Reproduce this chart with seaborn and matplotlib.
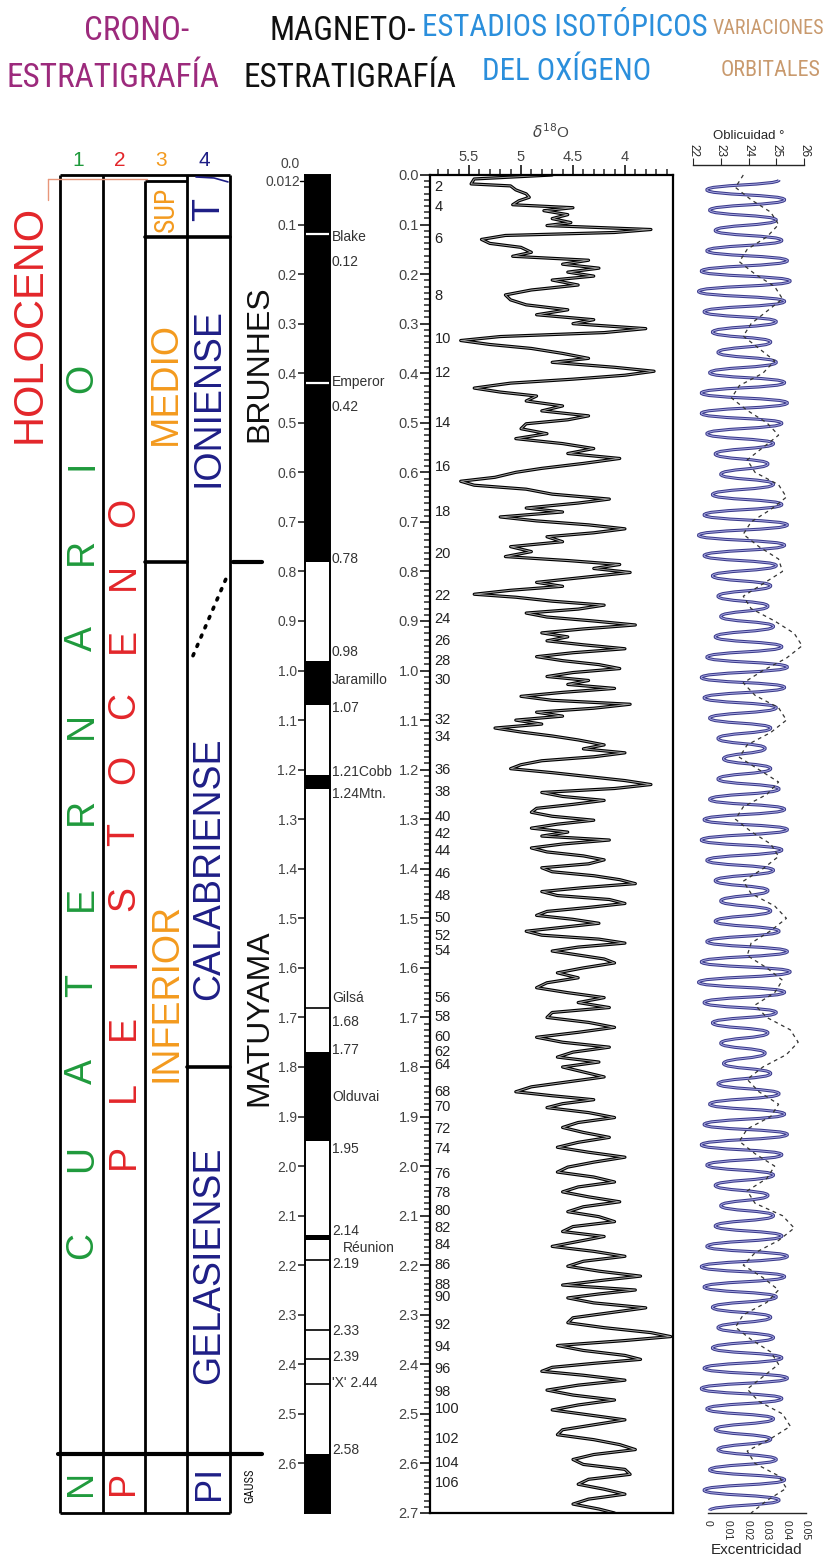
import matplotlib
matplotlib.use("Agg")
import numpy as np
import pandas as pd
import matplotlib.pyplot as plt
import seaborn as sns
from matplotlib import font_manager
from matplotlib.path import Path
from matplotlib.patches import PathPatch
from matplotlib.ticker import MultipleLocator, FixedLocator, FormatStrFormatter

# ---------------- data ----------------
# magnetostratigraphy: normal (black) intervals, Ma
mag_top = [0.0, 0.98, 1.21, 1.77, 2.14, 2.58]
mag_bot = [0.78, 1.07, 1.24, 1.95, 2.15, 2.70]
mag_white_lines = [0.12, 0.42]                 # Blake, Emperor
mag_thin_lines = [1.68, 2.19, 2.33, 2.39, 2.44]
mag_labels = ["Blake", "0.12", "Emperor", "0.42", "0.78", "0.98", "Jaramillo", "1.07",
              "1.21Cobb", "1.24Mtn.", "Gilsá", "1.68", "1.77", "Olduvai", "1.95",
              "2.14", "Réunion", "2.19", "2.33", "2.39", "'X' 2.44", "2.58"]
mag_label_age = [0.125, 0.175, 0.418, 0.468, 0.775, 0.962, 1.02, 1.075,
                 1.205, 1.25, 1.66, 1.71, 1.765, 1.86, 1.965,
                 2.13, 2.165, 2.198, 2.333, 2.385, 2.437, 2.572]

# oxygen isotope record (age Ma, d18O per mil)
d18_age = [0.000, 0.008, 0.018, 0.022, 0.030, 0.038, 0.045, 0.052, 0.060, 0.066,
           0.072, 0.080, 0.088, 0.096, 0.102, 0.110, 0.116, 0.122, 0.130, 0.138,
           0.146, 0.156, 0.164, 0.172, 0.180, 0.188, 0.196, 0.204, 0.212, 0.222,
           0.232, 0.242, 0.252, 0.262, 0.272, 0.282, 0.292, 0.300, 0.310, 0.318,
           0.326, 0.334, 0.342, 0.350, 0.360, 0.370, 0.378, 0.388, 0.396, 0.404,
           0.412, 0.420, 0.430, 0.438, 0.446, 0.456, 0.466, 0.476, 0.486, 0.494,
           0.502, 0.512, 0.522, 0.532, 0.542, 0.552, 0.562, 0.572, 0.582, 0.592,
           0.600, 0.610, 0.618, 0.626, 0.634, 0.644, 0.654, 0.662, 0.672, 0.680,
           0.690, 0.698, 0.706, 0.714, 0.722, 0.730, 0.740, 0.750, 0.760, 0.770,
           0.778, 0.786, 0.794, 0.802, 0.812, 0.822, 0.830, 0.838, 0.846, 0.852,
           0.860, 0.868, 0.876, 0.884, 0.892, 0.900, 0.908, 0.916, 0.924, 0.932,
           0.940, 0.948, 0.956, 0.964, 0.972, 0.980, 0.988, 0.996, 1.004, 1.012,
           1.020, 1.028, 1.036, 1.044, 1.052, 1.060, 1.068, 1.076, 1.084, 1.092,
           1.100, 1.108, 1.116, 1.124, 1.132, 1.140, 1.150, 1.158, 1.166, 1.174,
           1.182, 1.190, 1.198, 1.206, 1.214, 1.222, 1.230, 1.238, 1.246, 1.254,
           1.262, 1.270, 1.278, 1.286, 1.294, 1.302, 1.310, 1.318, 1.326, 1.334,
           1.342, 1.350, 1.358, 1.366, 1.374, 1.382, 1.390, 1.398, 1.406, 1.414,
           1.422, 1.430, 1.438, 1.446, 1.454, 1.462, 1.470, 1.478, 1.486, 1.494,
           1.502, 1.510, 1.518, 1.526, 1.534, 1.542, 1.550, 1.558, 1.566, 1.574,
           1.582, 1.590, 1.600, 1.610, 1.620, 1.630, 1.640, 1.650, 1.660, 1.670,
           1.680, 1.690, 1.700, 1.710, 1.720, 1.730, 1.740, 1.750, 1.760, 1.770,
           1.780, 1.790, 1.800, 1.810, 1.820, 1.830, 1.840, 1.850, 1.858, 1.866,
           1.874, 1.882, 1.892, 1.902, 1.912, 1.922, 1.932, 1.942, 1.952, 1.962,
           1.972, 1.982, 1.992, 2.002, 2.012, 2.022, 2.032, 2.042, 2.052, 2.062,
           2.072, 2.082, 2.092, 2.102, 2.112, 2.122, 2.132, 2.142, 2.152, 2.162,
           2.172, 2.182, 2.192, 2.202, 2.212, 2.222, 2.230, 2.240, 2.250, 2.258,
           2.266, 2.276, 2.286, 2.296, 2.306, 2.316, 2.326, 2.336, 2.344, 2.352,
           2.362, 2.372, 2.382, 2.390, 2.398, 2.406, 2.414, 2.422, 2.432, 2.442,
           2.452, 2.462, 2.472, 2.482, 2.492, 2.502, 2.512, 2.522, 2.532, 2.542,
           2.552, 2.562, 2.572, 2.582, 2.592, 2.602, 2.612, 2.622, 2.632, 2.642,
           2.652, 2.662, 2.672, 2.682, 2.692, 2.700]
d18_val = [4.70, 5.45, 5.48, 5.10, 5.05, 4.95, 4.92, 5.02, 5.08, 4.50,
           4.78, 4.55, 4.70, 4.52, 4.75, 3.75, 4.10, 5.15, 5.38, 5.30,
           5.00, 4.90, 5.08, 4.35, 4.60, 4.25, 4.55, 4.30, 4.70, 4.45,
           4.90, 5.15, 5.10, 4.95, 4.55, 4.85, 4.30, 4.50, 3.80, 4.20,
           5.20, 5.58, 5.30, 4.90, 4.60, 4.35, 4.70, 4.10, 3.72, 4.00,
           4.50, 5.10, 5.45, 5.20, 4.85, 4.95, 4.60, 4.80, 4.35, 4.55,
           4.95, 5.00, 4.75, 5.05, 4.60, 4.30, 4.55, 4.05, 4.40, 4.80,
           5.05, 5.25, 5.58, 5.45, 4.95, 4.70, 4.15, 4.45, 4.95, 4.60,
           5.20, 4.85, 4.35, 4.00, 4.30, 4.75, 4.60, 5.10, 4.90, 5.15,
           4.55, 4.05, 4.30, 3.95, 4.40, 4.85, 4.60, 5.10, 5.45, 5.05,
           4.70, 4.20, 4.45, 4.95, 4.75, 4.30, 3.90, 4.40, 4.80, 4.55,
           4.75, 4.40, 4.00, 4.50, 4.85, 4.60, 4.25, 4.05, 4.50, 4.75,
           4.35, 4.55, 4.10, 4.60, 5.00, 4.70, 3.95, 4.30, 4.85, 4.60,
           5.05, 4.80, 5.25, 5.00, 4.70, 4.45, 4.20, 4.40, 4.00, 4.30,
           4.80, 5.00, 5.10, 4.70, 4.35, 4.00, 3.75, 4.10, 4.80, 4.60,
           4.20, 4.50, 4.85, 4.90, 4.70, 4.30, 4.65, 4.90, 4.55, 4.80,
           4.15, 4.60, 4.90, 4.75, 4.40, 4.20, 4.35, 4.80, 4.70, 4.30,
           4.05, 3.90, 4.40, 4.80, 4.65, 4.15, 4.00, 4.35, 4.75, 4.85,
           4.50, 4.25, 4.60, 4.95, 4.80, 4.25, 4.00, 4.45, 4.70, 4.45,
           4.20, 4.10, 4.40, 4.65, 4.45, 4.75, 4.85, 4.55, 4.20, 4.45,
           4.15, 4.70, 4.75, 4.35, 4.10, 4.45, 4.85, 4.60, 4.15, 4.50,
           4.65, 4.25, 4.60, 4.40, 4.20, 4.55, 4.90, 5.05, 4.70, 4.30,
           4.60, 4.75, 4.35, 4.10, 4.45, 4.60, 4.40, 4.15, 4.45, 4.65,
           4.35, 4.00, 4.30, 4.55, 4.65, 4.30, 4.10, 4.45, 4.60, 4.35,
           4.05, 4.40, 4.55, 4.25, 4.10, 4.50, 4.60, 4.20, 4.45, 4.70,
           4.30, 4.00, 4.40, 4.55, 4.25, 3.85, 4.20, 4.60, 3.90, 4.25,
           4.55, 4.30, 3.80, 4.15, 4.50, 4.55, 4.20, 3.75, 3.56, 4.00,
           4.65, 4.40, 4.00, 3.85, 4.30, 4.70, 4.80, 4.40, 4.00, 4.45,
           4.75, 4.50, 4.10, 4.45, 4.70, 4.35, 4.00, 4.30, 4.60, 4.65,
           4.30, 4.05, 3.90, 4.30, 4.50, 4.40, 4.00, 3.95, 4.35, 4.45,
           4.20, 4.00, 4.35, 4.50, 4.25, 4.10]

# marine isotope stage labels
stage_num = [2, 4, 6, 8, 10, 12, 14, 16, 18, 20, 22, 24, 26, 28, 30, 32, 34, 36, 38, 40,
             42, 44, 46, 48, 50, 52, 54, 56, 58, 60, 62, 64, 68, 70, 72, 74, 76, 78, 80,
             82, 84, 86, 88, 90, 92, 94, 96, 98, 100, 102, 104, 106]
stage_age = [0.025, 0.065, 0.13, 0.245, 0.33, 0.40, 0.50, 0.59, 0.68, 0.765, 0.85, 0.895,
             0.94, 0.98, 1.02, 1.10, 1.135, 1.20, 1.245, 1.295, 1.33, 1.365, 1.41, 1.455,
             1.50, 1.535, 1.565, 1.66, 1.70, 1.74, 1.77, 1.795, 1.85, 1.88, 1.925, 1.965,
             2.015, 2.055, 2.09, 2.125, 2.16, 2.20, 2.24, 2.265, 2.32, 2.365, 2.41, 2.455,
             2.49, 2.55, 2.60, 2.64]

# obliquity turning points (age Ma, degrees)
obl_age = [0.010, 0.030, 0.050, 0.071, 0.091, 0.112, 0.132, 0.153, 0.173, 0.194,
           0.214, 0.235, 0.255, 0.276, 0.296, 0.317, 0.337, 0.358, 0.378, 0.399,
           0.419, 0.440, 0.460, 0.481, 0.501, 0.522, 0.542, 0.563, 0.583, 0.604,
           0.624, 0.645, 0.665, 0.686, 0.706, 0.727, 0.747, 0.768, 0.788, 0.809,
           0.829, 0.850, 0.870, 0.891, 0.911, 0.932, 0.952, 0.973, 0.993, 1.014,
           1.034, 1.055, 1.075, 1.096, 1.116, 1.137, 1.157, 1.178, 1.198, 1.219,
           1.239, 1.260, 1.280, 1.301, 1.321, 1.342, 1.362, 1.383, 1.403, 1.424,
           1.444, 1.465, 1.485, 1.506, 1.526, 1.547, 1.567, 1.588, 1.608, 1.629,
           1.649, 1.670, 1.690, 1.711, 1.731, 1.752, 1.772, 1.793, 1.813, 1.834,
           1.854, 1.875, 1.895, 1.916, 1.936, 1.957, 1.977, 1.998, 2.018, 2.039,
           2.059, 2.080, 2.100, 2.121, 2.141, 2.162, 2.182, 2.203, 2.223, 2.244,
           2.264, 2.285, 2.305, 2.326, 2.346, 2.367, 2.387, 2.408, 2.428, 2.449,
           2.469, 2.490, 2.510, 2.531, 2.551, 2.572, 2.592, 2.613, 2.633, 2.654,
           2.674, 2.695]
obl_val = [25.1, 22.5, 25.3, 22.6, 25.0, 22.8, 25.2, 22.5, 25.4, 22.3,
           25.5, 22.2, 25.3, 22.4, 25.0, 22.7, 24.8, 22.9, 25.0, 22.6,
           25.3, 22.3, 25.4, 22.3, 25.2, 22.5, 24.9, 22.8, 24.7, 23.0,
           24.9, 22.7, 25.2, 22.4, 25.4, 22.2, 25.3, 22.4, 25.0, 22.7,
           24.8, 22.9, 24.7, 23.0, 24.9, 22.8, 25.2, 22.5, 25.4, 22.3,
           25.3, 22.4, 25.0, 22.6, 24.8, 22.9, 24.6, 23.1, 24.8, 22.9,
           25.1, 22.6, 25.3, 22.4, 25.4, 22.3, 25.2, 22.5, 24.9, 22.8,
           24.7, 23.0, 24.8, 22.8, 25.1, 22.5, 25.4, 22.3, 25.5, 22.2,
           25.3, 22.4, 25.0, 22.7, 24.7, 23.0, 24.6, 23.1, 24.8, 22.9,
           25.1, 22.6, 25.3, 22.4, 25.4, 22.3, 25.2, 22.5, 24.9, 22.8,
           24.7, 23.0, 24.9, 22.8, 25.2, 22.5, 25.4, 22.3, 25.3, 22.4,
           25.0, 22.7, 24.8, 22.9, 24.9, 22.7, 25.2, 22.4, 25.4, 22.3,
           25.2, 22.5, 24.9, 22.8, 24.8, 22.9, 25.0, 22.6, 25.3, 22.4,
           25.1, 22.6]

# eccentricity (dashed)
ecc_age = [0.000, 0.025, 0.050, 0.075, 0.100, 0.125, 0.150, 0.175, 0.200, 0.225,
           0.250, 0.275, 0.300, 0.325, 0.350, 0.375, 0.400, 0.425, 0.450, 0.475,
           0.500, 0.525, 0.550, 0.575, 0.600, 0.625, 0.650, 0.675, 0.700, 0.725,
           0.750, 0.775, 0.800, 0.825, 0.850, 0.875, 0.900, 0.925, 0.950, 0.975,
           1.000, 1.025, 1.050, 1.075, 1.100, 1.125, 1.150, 1.175, 1.200, 1.225,
           1.250, 1.275, 1.300, 1.325, 1.350, 1.375, 1.400, 1.425, 1.450, 1.475,
           1.500, 1.525, 1.550, 1.575, 1.600, 1.625, 1.650, 1.675, 1.700, 1.725,
           1.750, 1.775, 1.800, 1.825, 1.850, 1.875, 1.900, 1.925, 1.950, 1.975,
           2.000, 2.025, 2.050, 2.075, 2.100, 2.125, 2.150, 2.175, 2.200, 2.225,
           2.250, 2.275, 2.300, 2.325, 2.350, 2.375, 2.400, 2.425, 2.450, 2.475,
           2.500, 2.525, 2.550, 2.575, 2.600, 2.625, 2.650, 2.675, 2.700]
ecc_val = [0.018, 0.014, 0.022, 0.032, 0.036, 0.030, 0.020, 0.016, 0.024, 0.034,
           0.038, 0.030, 0.022, 0.018, 0.026, 0.034, 0.028, 0.016, 0.012, 0.020,
           0.030, 0.036, 0.028, 0.020, 0.024, 0.036, 0.040, 0.032, 0.022, 0.018,
           0.026, 0.036, 0.038, 0.028, 0.018, 0.022, 0.034, 0.044, 0.048, 0.040,
           0.028, 0.018, 0.024, 0.036, 0.040, 0.032, 0.020, 0.016, 0.026, 0.036,
           0.030, 0.018, 0.014, 0.022, 0.032, 0.036, 0.028, 0.018, 0.022, 0.034,
           0.040, 0.032, 0.022, 0.020, 0.030, 0.038, 0.034, 0.024, 0.030, 0.042,
           0.046, 0.040, 0.028, 0.020, 0.026, 0.036, 0.032, 0.020, 0.016, 0.024,
           0.034, 0.030, 0.020, 0.024, 0.038, 0.044, 0.036, 0.024, 0.018, 0.028,
           0.036, 0.030, 0.018, 0.014, 0.022, 0.032, 0.036, 0.028, 0.020, 0.026,
           0.038, 0.042, 0.032, 0.020, 0.024, 0.036, 0.040, 0.030, 0.022]

# chronostratigraphy texts
cuat_letters = list("OIRANRETAUC")
cuat_age = [0.41, 0.585, 0.76, 0.935, 1.11, 1.285, 1.46, 1.635, 1.81, 1.985, 2.16]
pleis_letters = list("ONECOTSIELP")
pleis_age = [0.68, 0.81, 0.94, 1.07, 1.20, 1.33, 1.46, 1.59, 1.72, 1.85, 1.98]

headers = ["CRONO-", "ESTRATIGRAFÍA", "MAGNETO-", "ESTRATIGRAFÍA",
           "ESTADIOS ISOTÓPICOS", "DEL OXÍGENO", "VARIACIONES", "ORBITALES"]

# ---------------- figure ----------------
sns.set_style("white")
plt.rcParams['font.family'] = ['Liberation Sans', 'DejaVu Sans']

# a condensed face for the headings, if one is installed
names = {f.name for f in font_manager.fontManager.ttflist}
stretches = {(f.name, f.stretch) for f in font_manager.fontManager.ttflist}
COND = dict(family=['Liberation Sans', 'DejaVu Sans'])
for cand in ['Liberation Sans Narrow', 'Roboto Condensed', 'Open Sans Condensed',
             'DejaVu Sans Condensed', 'Noto Sans Condensed']:
    if cand in names:
        COND = dict(family=[cand, 'DejaVu Sans'])
        break
else:
    if ('DejaVu Sans', 'condensed') in stretches:
        COND = dict(family='DejaVu Sans', fontstretch='condensed')

W, H = 825, 1564
Y0, Y1 = 175, 1513
AMAX = 2.7
fig = plt.figure(figsize=(W / 100, H / 100), dpi=100)
renderer = fig.canvas.get_renderer()

GREEN, RED, ORANGE, NAVY = '#1f9a3c', '#e3262a', '#f39a1e', '#1e1e86'
PURPLE, BLUE, TAN = '#9c2a7c', '#2b8fdc', '#c99a6e'


def make_ax(x0, x1, top_px=Y0):
    ax = fig.add_axes([x0 / W, 1 - Y1 / H, (x1 - x0) / W, (Y1 - top_px) / H])
    ax.set_ylim(AMAX, (top_px - Y0) / (Y1 - Y0) * AMAX)
    ax.patch.set_alpha(0)
    return ax


def ftext(px, py, s, **kw):
    return fig.text(px / W, 1 - py / H, s, ha='center', va='center', **kw)


def size_for(s, width, ref=28):
    t = ftext(0, 0, s, fontsize=ref, **COND)
    w = t.get_window_extent(renderer).width
    t.remove()
    return ref * width / w


# heading sizes: left pair set by ESTRATIGRAFÍA, right block by the isotope title
HL = min(size_for("ESTRATIGRAFÍA", 214), 28)
HR = min(size_for("ESTADIOS ISOTÓPICOS", 286), 28)
head_pos = [(137, 31, HL), (113, 78, HL), (343, 31, HL), (350, 78, HL),
            (565, 28, HR), (567, 71, HR), (768, 28, None), (771, 71, None)]
head_w = [None, None, None, None, None, None, 112, 100]
head_col = [PURPLE, PURPLE, '#111111', '#111111', BLUE, BLUE, TAN, TAN]
for s, (x, y, fs), w, c in zip(headers, head_pos, head_w, head_col):
    if fs is None:
        fs = min(HR, size_for(s, w))
    ftext(x, y, s, color=c, fontsize=fs, **COND)

# ---- chronostratigraphic table ----
ax_t = make_ax(0, 300)
ax_t.set_xlim(0, 300)
ax_t.axis('off')
lk = dict(color='black', lw=2.0, clip_on=False, solid_capstyle='butt')
for x in [60, 103, 187, 230]:
    ax_t.plot([x, x], [0, AMAX], **lk)
ax_t.plot([145, 145], [0.012, AMAX], **lk)
ax_t.plot([60, 230], [0, 0], **lk)
ax_t.plot([60, 230], [AMAX, AMAX], **lk)
ax_t.plot([145, 187], [0.012, 0.012], **lk)
ax_t.plot([145, 230], [0.126, 0.126], color='black', lw=2.6, clip_on=False)
ax_t.plot([145, 187], [0.78, 0.78], color='black', lw=2.6, clip_on=False)
ax_t.plot([233, 262], [0.78, 0.78], color='black', lw=3.0, clip_on=False)
ax_t.plot([187, 230], [1.8, 1.8], color='black', lw=2.6, clip_on=False)
ax_t.plot([58, 262], [2.58, 2.58], color='black', lw=3.0, clip_on=False)
ax_t.plot([193, 227], [0.97, 0.81], color='black', lw=2.6, ls=(0, (0.6, 2.2)),
          dash_capstyle='round', clip_on=False)
ax_t.plot([48, 147], [0.008, 0.008], color='#e8967a', lw=1.0, clip_on=False)
ax_t.plot([48, 48], [0.008, 0.05], color='#e8967a', lw=1.0, clip_on=False)
ax_t.plot([196, 214, 228], [0.004, 0.006, 0.014], color=NAVY, lw=1.2, clip_on=False)

for s, x, c in [("1", 78, GREEN), ("2", 120, RED), ("3", 161, ORANGE), ("4", 204, NAVY)]:
    ax_t.text(x, -0.03, s, color=c, fontsize=15, ha='center', va='center')

rk = dict(rotation=90, ha='center', va='center')
ax_t.text(30, 0.30, "HOLOCENO", color=RED, fontsize=30, **rk)
for ch, a in zip(cuat_letters, cuat_age):
    ax_t.text(82, a, ch, color=GREEN, fontsize=27, **rk)
for ch, a in zip(pleis_letters, pleis_age):
    ax_t.text(124, a, ch, color=RED, fontsize=27, **rk)
ax_t.text(166, 0.069, "SUP", color=ORANGE, fontsize=20, **COND, **rk)
ax_t.text(166, 0.42, "MEDIO", color=ORANGE, fontsize=27, **rk)
ax_t.text(166, 1.65, "INFERIOR", color=ORANGE, fontsize=27, **rk)
ax_t.text(209, 0.069, "T", color=NAVY, fontsize=27, **rk)
ax_t.text(209, 0.45, "IONIENSE", color=NAVY, fontsize=27, **rk)
ax_t.text(209, 1.40, "CALABRIENSE", color=NAVY, fontsize=27, **rk)
ax_t.text(209, 2.20, "GELASIENSE", color=NAVY, fontsize=27, **rk)
ax_t.text(82, 2.64, "N", color=GREEN, fontsize=26, **rk)
ax_t.text(124, 2.64, "P", color=RED, fontsize=26, **rk)
ax_t.text(209, 2.64, "PI", color=NAVY, fontsize=26, **rk)
ax_t.text(259, 0.38, "BRUNHES", color='#111111', fontsize=23, **rk)
ax_t.text(259, 1.70, "MATUYAMA", color='#111111', fontsize=23, **rk)
ax_t.text(250, 2.645, "GAUSS", color='#111111', fontsize=9, **COND, **rk)

# ---- magnetostratigraphy ----
ax_m = make_ax(305, 330)
ax_m.set_xlim(0, 1)
for t, b in zip(mag_top, mag_bot):
    ax_m.axhspan(t, b, color='black', lw=0)
for a in mag_white_lines:
    ax_m.axhline(a, color='white', lw=1.6)
for a in mag_thin_lines:
    ax_m.axhline(a, color='black', lw=1.2)
for sp in ax_m.spines.values():
    sp.set_linewidth(1.4)
    sp.set_color('black')
ax_m.set_xticks([])
ax_m.yaxis.set_major_locator(FixedLocator([round(0.1 * k, 1) for k in range(1, 27)]))
ax_m.yaxis.set_major_formatter(FormatStrFormatter('%.1f'))
ax_m.tick_params(axis='y', left=True, direction='out', length=5, width=1.2,
                 labelsize=10, labelcolor='#444444', pad=1)
ax_m.text(-0.2, -0.022, "0.0", ha='right', va='center', fontsize=10, color='#444444')
ax_m.text(-0.2, 0.014, "0.012", ha='right', va='center', fontsize=10, color='#444444')
ax_m.plot([-0.2, 0], [0.012, 0.012], color='black', lw=1.0, clip_on=False)
for s, a in zip(mag_labels, mag_label_age):
    dx = 1.5 if s == "Réunion" else 1.08
    ax_m.text(dx, a, s, ha='left', va='center', fontsize=10, color='#333333')

# ---- oxygen isotopes ----
ax_d = make_ax(430, 673)
df_d = pd.DataFrame({'d18O': d18_val, 'age': d18_age})
sns.lineplot(data=df_d, x='d18O', y='age', ax=ax_d, sort=False, estimator=None,
             color='black', lw=2.3)
sns.lineplot(data=df_d, x='d18O', y='age', ax=ax_d, sort=False, estimator=None,
             color='#a0a0a0', lw=0.7)
ax_d.set_xlim(5.875, 3.538)
ax_d.set_ylim(AMAX, 0)
ax_d.set_xlabel('')
ax_d.set_ylabel('')
ax_d.xaxis.tick_top()
ax_d.set_xticks([5.5, 5.0, 4.5, 4.0])
ax_d.set_xticklabels(['5.5', '5', '4.5', '4'])
ax_d.xaxis.set_minor_locator(MultipleLocator(0.1))
ax_d.yaxis.set_major_locator(MultipleLocator(0.1))
ax_d.yaxis.set_major_formatter(FormatStrFormatter('%.1f'))
ax_d.yaxis.set_minor_locator(MultipleLocator(0.0125))
ax_d.tick_params(which='major', direction='out', length=7, width=1.3,
                 labelsize=10.5, labelcolor='#444444', pad=1)
ax_d.tick_params(which='minor', direction='out', length=4, width=1.1)
ax_d.tick_params(axis='x', which='both', top=True, bottom=False)
ax_d.tick_params(axis='y', which='both', left=True, right=False)
for sp in ax_d.spines.values():
    sp.set_linewidth(1.6)
    sp.set_color('black')
for n, a in zip(stage_num, stage_age):
    ax_d.text(5.83, a, str(n), ha='left', va='center', fontsize=10.5, color='#222222')
ftext(551, 132, r'$\delta^{18}$O', fontsize=11, color='#444444')

# ---- orbital variations ----
ax_o = make_ax(693, 804, top_px=165)
ax_o.set_xlim(22, 26)
for k in ['left', 'right', 'bottom']:
    ax_o.spines[k].set_visible(False)
ax_o.spines['top'].set_linewidth(1.0)
ax_o.xaxis.tick_top()
ax_o.set_xticks([22, 23, 24, 25, 26])
ax_o.set_yticks([])
ax_o.tick_params(axis='x', direction='out', length=5, labelsize=8.5, labelrotation=270, pad=1)
ax_o.xaxis.set_label_position('top')
ax_o.set_xlabel('Oblicuidad °', fontsize=9.5, labelpad=3)

verts = [(obl_val[0], obl_age[0])]
codes = [Path.MOVETO]
for i in range(1, len(obl_age)):
    x0, y0, x1, y1 = obl_val[i - 1], obl_age[i - 1], obl_val[i], obl_age[i]
    dy = (y1 - y0) * 0.55
    verts += [(x0, y0 + dy), (x1, y1 - dy), (x1, y1)]
    codes += [Path.CURVE4] * 3
obl_path = Path(verts, codes)
ax_o.add_patch(PathPatch(obl_path, fc='none', ec='#3b3b8c', lw=2.2))
ax_o.add_patch(PathPatch(obl_path, fc='none', ec='#a8a8e0', lw=0.7))

ax_e = make_ax(708, 806, top_px=165)
df_e = pd.DataFrame({'ecc': ecc_val, 'age': ecc_age})
sns.lineplot(data=df_e, x='ecc', y='age', ax=ax_e, sort=False, estimator=None,
             color='#333333', lw=0.9, dashes=False, linestyle=(0, (3, 3)))
ax_e.set_xlim(0, 0.05)
ax_e.set_ylim(AMAX, (165 - Y0) / (Y1 - Y0) * AMAX)
ax_e.set_ylabel('')
for k in ['left', 'right', 'top']:
    ax_e.spines[k].set_visible(False)
ax_e.spines['bottom'].set_linewidth(1.0)
ax_e.set_xticks([0, 0.01, 0.02, 0.03, 0.04, 0.05])
ax_e.set_xticklabels(['0', '0.01', '0.02', '0.03', '0.04', '0.05'])
ax_e.set_yticks([])
ax_e.tick_params(axis='x', direction='out', length=4, labelsize=7.5, labelrotation=270, pad=1)
ax_e.set_xlabel('Excentricidad', fontsize=11, labelpad=2)

fig.savefig("out.png", dpi=100)
